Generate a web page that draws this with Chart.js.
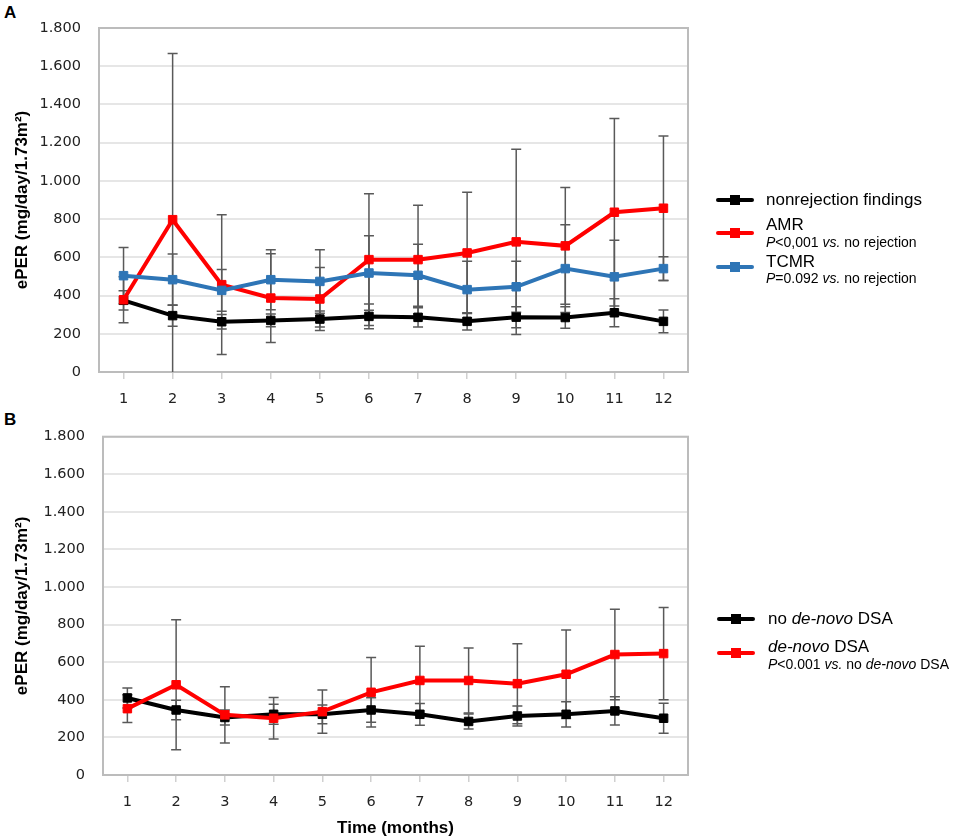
<!DOCTYPE html>
<html>
<head>
<meta charset="utf-8">
<script src="https://cdn.jsdelivr.net/npm/chart.js@4.4.0/dist/chart.umd.min.js"></script>
<style>
    body { margin: 0; background: #fff; width: 957px; height: 839px; position: relative; overflow: hidden; font-family: "Liberation Sans", Arial, sans-serif; }
    canvas { position: absolute; left: 0; }
    .panel { position: absolute; left: 4px; font: bold 17px "Liberation Sans", Arial, sans-serif; }
    .sample { position: absolute; width: 38px; height: 4px; border-radius: 2px; }
    .sample i { position: absolute; left: 14px; top: -3px; width: 10px; height: 10px; }
    .txt { position: absolute; font-size: 17px; line-height: 18px; color: #000; white-space: nowrap; }
    .sub { position: absolute; font-size: 14px; line-height: 15px; color: #000; white-space: nowrap; }
</style>
</head>
<body>
<div class="panel" style="top:3px">A</div>
<div class="panel" style="top:410px">B</div>
<canvas id="chartA" width="720" height="410" style="top:0"></canvas>
<canvas id="chartB" width="720" height="429" style="top:410px"></canvas>

<!-- legend A -->
<div class="sample" style="left:716px;top:198px;background:#000"><i style="background:#000"></i></div>
<div class="txt" style="left:766px;top:191px">nonrejection findings</div>
<div class="sample" style="left:716px;top:231px;background:#ff0000"><i style="background:#ff0000"></i></div>
<div class="txt" style="left:766px;top:216px">AMR</div>
<div class="sub" style="left:766px;top:235px"><i>P</i>&lt;0,001 <i>vs.</i> no rejection</div>
<div class="sample" style="left:716px;top:265px;background:#2e75b6"><i style="background:#2e75b6"></i></div>
<div class="txt" style="left:766px;top:253px">TCMR</div>
<div class="sub" style="left:766px;top:271px"><i>P</i>=0.092 <i>vs.</i> no rejection</div>

<!-- legend B -->
<div class="sample" style="left:717px;top:617px;background:#000"><i style="background:#000"></i></div>
<div class="txt" style="left:768px;top:610px">no <i>de-novo</i> DSA</div>
<div class="sample" style="left:717px;top:651px;background:#ff0000"><i style="background:#ff0000"></i></div>
<div class="txt" style="left:768px;top:638px"><i>de-novo</i> DSA</div>
<div class="sub" style="left:768px;top:657px"><i>P</i>&lt;0.001 <i>vs.</i> no <i>de-novo</i> DSA</div>

<script>
// data (mean and SD per month)
let months = ['1', '2', '3', '4', '5', '6', '7', '8', '9', '10', '11', '12'];
let yTickLabels = ['0', '200', '400', '600', '800', '1.000', '1.200', '1.400', '1.600', '1.800'];

// panel A
let nonrejMean = [375, 295, 263, 270, 277, 291, 286, 265, 287, 285, 310, 265];
let nonrejSd = [50, 55, 38, 33, 42, 65, 50, 45, 55, 56, 73, 60];
let amrMean = [378, 797, 457, 387, 382, 588, 588, 623, 681, 660, 836, 857];
let amrSd = [120, 870, 366, 232, 165, 345, 284, 317, 485, 306, 491, 378];
let tcmrMean = [504, 483, 427, 483, 474, 518, 506, 431, 446, 541, 498, 541];
let tcmrSd = [148, 134, 109, 157, 166, 195, 162, 149, 134, 230, 191, 62];

// panel B
let noDsaMean = [410, 346, 306, 323, 323, 346, 323, 285, 314, 323, 341, 302];
let noDsaSd = [53, 52, 40, 53, 50, 65, 58, 40, 53, 67, 75, 80];
let dsaMean = [353, 480, 320, 302, 337, 440, 503, 503, 486, 536, 641, 646];
let dsaSd = [74, 346, 150, 110, 115, 185, 182, 173, 213, 236, 241, 245];

// plot frame + error bars, drawn under the lines
let errorBars = {
    id: 'errorBars',
    beforeDatasetsDraw: function(chart) {
        let ctx = chart.ctx;
        let area = chart.chartArea;
        let xs = chart.scales.x;
        let ys = chart.scales.y;

        ctx.save();
        ctx.strokeStyle = '#bcbcbc';
        ctx.lineWidth = 2;
        ctx.strokeRect(area.left, area.top, area.right - area.left, area.bottom - area.top);

        ctx.strokeStyle = '#595959';
        ctx.lineWidth = 1.5;
        chart.data.datasets.forEach(function(ds) {
            ds.data.forEach(function(v, i) {
                let x = xs.getPixelForValue(i);
                let hi = v + ds.sd[i];
                let lo = v - ds.sd[i];
                let yHi = ys.getPixelForValue(hi);
                let yLo = ys.getPixelForValue(Math.max(lo, 0));
                ctx.beginPath();
                ctx.moveTo(x, yHi);
                ctx.lineTo(x, yLo);
                ctx.moveTo(x - 5, yHi);
                ctx.lineTo(x + 5, yHi);
                if (lo > 0) {
                    ctx.moveTo(x - 5, yLo);
                    ctx.lineTo(x + 5, yLo);
                }
                ctx.stroke();
            });
        });
        ctx.restore();
    }
};

function series(label, data, sd, color) {
    return {
        label: label,
        data: data,
        sd: sd,
        borderColor: color,
        backgroundColor: color,
        borderWidth: 4,
        pointStyle: 'rect',
        pointRadius: 6,
        pointBorderWidth: 1,
        tension: 0
    };
}

function makeOptions(top, yWidth, xHeight, xTitle) {
    return {
        responsive: false,
        animation: false,
        layout: { padding: { top: top, right: 32, left: 0, bottom: 0 } },
        plugins: { legend: { display: false }, tooltip: { enabled: false } },
        scales: {
            x: {
                offset: true,
                grid: { drawOnChartArea: false, drawTicks: true, tickLength: 7, color: '#d0d0d0', lineWidth: 1.5 },
                border: { display: false },
                ticks: { padding: 12, color: '#222', font: { family: 'DejaVu Sans', size: 14.5 } },
                title: {
                    display: !!xTitle,
                    text: xTitle || '',
                    color: '#000',
                    padding: { top: 0, bottom: 0 },
                    font: { family: 'Liberation Sans', size: 17, weight: 'bold' }
                },
                afterFit: function(scale) { scale.height = xHeight; }
            },
            y: {
                min: 0,
                max: 1800,
                grid: { color: '#e6e6e6', lineWidth: 2, drawTicks: false },
                border: { display: false },
                ticks: {
                    stepSize: 200,
                    padding: 18,
                    color: '#222',
                    font: { family: 'DejaVu Sans', size: 14.5 },
                    callback: function(value, index) { return yTickLabels[index]; }
                },
                title: {
                    display: true,
                    text: 'ePER (mg/day/1.73m²)',
                    color: '#000',
                    padding: { top: 12, bottom: 0 },
                    font: { family: 'Liberation Sans', size: 17, weight: 'bold' }
                },
                afterFit: function(scale) { scale.width = yWidth; }
            }
        }
    };
}

document.addEventListener('DOMContentLoaded', function() {
    new Chart(document.getElementById('chartA'), {
        type: 'line',
        data: {
            labels: months,
            datasets: [
                series('TCMR', tcmrMean, tcmrSd, '#2e75b6'),
                series('AMR', amrMean, amrSd, '#ff0000'),
                series('nonrejection findings', nonrejMean, nonrejSd, '#000000')
            ]
        },
        options: makeOptions(28, 99, 38, null),
        plugins: [errorBars]
    });

    new Chart(document.getElementById('chartB'), {
        type: 'line',
        data: {
            labels: months,
            datasets: [
                series('de-novo DSA', dsaMean, dsaSd, '#ff0000'),
                series('no de-novo DSA', noDsaMean, noDsaSd, '#000000')
            ]
        },
        options: makeOptions(22, 103, 64, 'Time (months)'),
        plugins: [errorBars]
    });
});
</script>
</body>
</html>
